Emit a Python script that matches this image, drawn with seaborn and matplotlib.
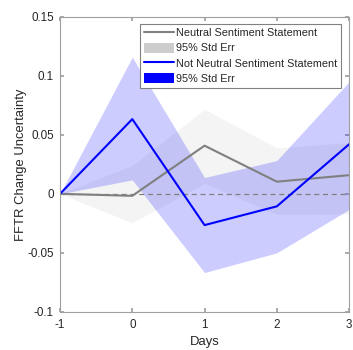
import numpy as np
import pandas as pd
import matplotlib
matplotlib.use("Agg")
import matplotlib.pyplot as plt
import seaborn as sns
from matplotlib.lines import Line2D
from matplotlib.patches import Patch

sns.set_theme(style="white")
plt.rcParams["font.family"] = ["Liberation Sans", "DejaVu Sans"]

days = [-1, 0, 1, 2, 3]

neutral = [0.0, -0.0017, 0.0408, 0.0103, 0.0158]
neutral_lo = [0.0, -0.0245, 0.0089, -0.0175, -0.0170]
neutral_hi = [0.0, 0.0240, 0.0716, 0.0390, 0.0434]

not_neutral = [0.0, 0.0633, -0.0265, -0.0106, 0.0420]
not_neutral_lo = [0.0, 0.0118, -0.0667, -0.0500, -0.0132]
not_neutral_hi = [0.0, 0.1158, 0.0138, 0.0282, 0.0950]

df = pd.DataFrame({
    "day": days * 2,
    "value": neutral + not_neutral,
    "group": ["Neutral Sentiment Statement"] * 5 + ["Not Neutral Sentiment Statement"] * 5,
})

fig = plt.figure(figsize=(3.53, 3.5), dpi=100)
ax = fig.add_axes([0.170, 0.109, 0.819, 0.843])

ax.fill_between(days, neutral_lo, neutral_hi, color=(0.8, 0.8, 0.8), alpha=0.2, linewidth=0)
ax.fill_between(days, not_neutral_lo, not_neutral_hi, color="blue", alpha=0.2, linewidth=0)
ax.axhline(0, color="#808080", linestyle="--", linewidth=0.9, dashes=(4, 3))

sns.lineplot(
    data=df, x="day", y="value", hue="group",
    palette={"Neutral Sentiment Statement": "#808080",
             "Not Neutral Sentiment Statement": "#0000ff"},
    linewidth=1.5, ax=ax, legend=False
)

ax.set_xlim(-1, 3)
ax.set_ylim(-0.1, 0.15)
ax.set_xticks(days)
ax.set_yticks([-0.1, -0.05, 0, 0.05, 0.1, 0.15])
ax.set_yticklabels(["-0.1", "-0.05", "0", "0.05", "0.1", "0.15"])
ax.set_xticklabels(["-1", "0", "1", "2", "3"])
ax.tick_params(direction="in", length=3, colors="#a0a0a0", labelcolor="#262626",
               labelsize=8.4, top=True, right=True, bottom=True, left=True)
ax.tick_params(axis="y", pad=4.5)
ax.tick_params(axis="x", pad=5.5)
for s in ax.spines.values():
    s.set_color("#a0a0a0")
    s.set_linewidth(0.8)
ax.set_xlabel("Days", fontsize=9.4, color="#262626")
ax.set_ylabel("FFTR Change Uncertainty", fontsize=9.4, color="#262626")
ax.xaxis.set_label_coords(0.5, -0.083)
ax.yaxis.set_label_coords(-0.113, 0.5)

handles = [
    Line2D([], [], color="#808080", linewidth=1.5),
    Patch(facecolor=(0.8, 0.8, 0.8), edgecolor="none"),
    Line2D([], [], color="#0000ff", linewidth=1.5),
    Patch(facecolor="#0000ff", edgecolor="none"),
]
labels = ["Neutral Sentiment Statement", "95% Std Err",
          "Not Neutral Sentiment Statement", "95% Std Err"]
leg = ax.legend(handles, labels, loc="upper right", bbox_to_anchor=(0.973, 0.977),
                fontsize=7.8, frameon=True, fancybox=False, framealpha=1,
                borderpad=0.35, labelspacing=0.4, handlelength=2.8,
                handleheight=1.1, handletextpad=0.2, borderaxespad=0)
leg.get_frame().set_edgecolor("#808080")
leg.get_frame().set_linewidth(0.8)

fig.savefig("out.png", dpi=100)
